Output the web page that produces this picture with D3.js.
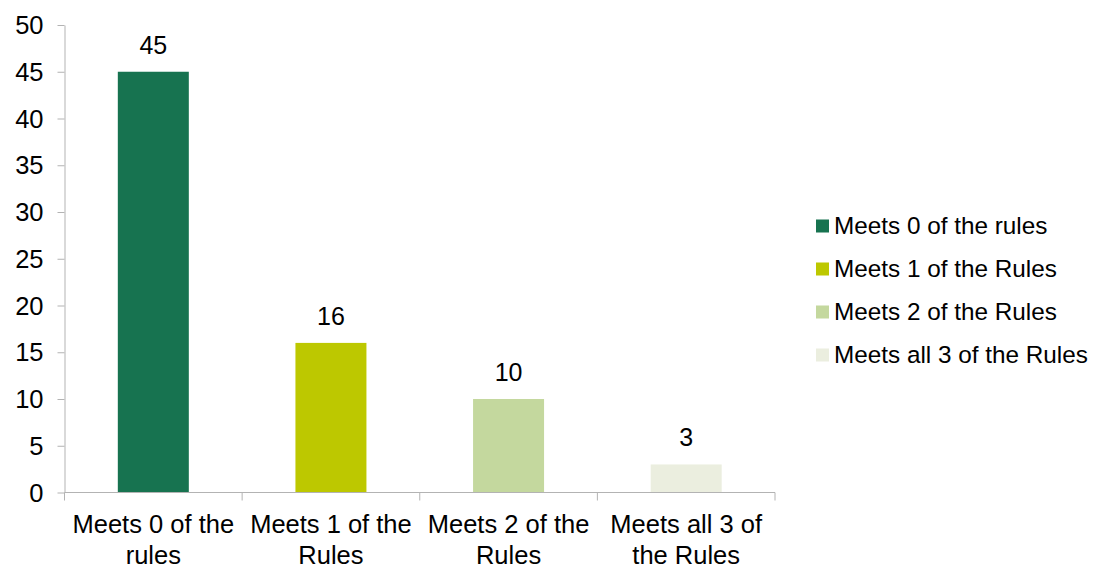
<!DOCTYPE html>
<html><head><meta charset="utf-8">
<script src="https://cdn.jsdelivr.net/npm/d3@7"></script>
<style>body{margin:0;background:#fff}svg{display:block}text{font-family:"Liberation Sans",Arial,sans-serif;fill:#000}</style>
</head><body><svg id="c" width="1093" height="567"></svg>
<script>
const categories = [["Meets 0 of the","rules"],["Meets 1 of the","Rules"],["Meets 2 of the","Rules"],["Meets all 3 of","the Rules"]];
const seriesNames = ["Meets 0 of the rules","Meets 1 of the Rules","Meets 2 of the Rules","Meets all 3 of the Rules"];
const values = [45,16,10,3];
const colors = ["#177350","#bdc800","#c4d89e","#ebeedf"];
const yTicks = [0,5,10,15,20,25,30,35,40,45,50];

const svg = d3.select("#c");
const L=64.5, R=775, T=25, B=492.5;
const x = d3.scaleBand().domain(d3.range(values.length)).range([L,R]).paddingInner(0).paddingOuter(0);
const y = d3.scaleLinear().domain([0,50]).range([B,T]);
const axisColor="#b3b3b3";

// y axis
const yg = svg.append("g").attr("transform",`translate(${L},0)`)
  .call(d3.axisLeft(y).tickValues(yTicks).tickSize(7).tickPadding(8).tickSizeOuter(0));
yg.select(".domain").attr("stroke",axisColor);
yg.selectAll(".tick line").attr("stroke",axisColor);
yg.selectAll(".tick text").attr("font-size",25.5).attr("font-family","Liberation Sans, Arial, sans-serif").attr("fill","#000").attr("x",-21).attr("dy","0.34em");

// bars
const bw = 71;
svg.selectAll("rect.bar").data(values).enter().append("rect")
  .attr("x",(d,i)=>x(i)+x.bandwidth()/2-bw/2).attr("width",bw)
  .attr("y",d=>y(d)).attr("height",d=>B-y(d)).attr("fill",(d,i)=>colors[i]);

// x axis
svg.append("line").attr("x1",L).attr("x2",R).attr("y1",B).attr("y2",B).attr("stroke",axisColor);
const bounds = d3.range(values.length+1).map(i=> i<values.length? x(i): R);
svg.selectAll("line.xt").data(bounds).enter().append("line")
  .attr("x1",d=>d).attr("x2",d=>d).attr("y1",B).attr("y2",B+8).attr("stroke",axisColor);

// category labels
categories.forEach((c,i)=>{
  const t = svg.append("text").attr("text-anchor","middle").attr("font-size",25.5)
    .attr("x",x(i)+x.bandwidth()/2).attr("y",533);
  c.forEach((line,j)=>t.append("tspan").attr("x",x(i)+x.bandwidth()/2).attr("dy",j?30.5:0).text(line));
});

// value labels
svg.selectAll("text.val").data(values).enter().append("text")
  .attr("text-anchor","middle").attr("font-size",25)
  .attr("x",(d,i)=>x(i)+x.bandwidth()/2).attr("y",d=>y(d)-18).text(d=>d);

// legend
const lg = svg.append("g");
seriesNames.forEach((n,i)=>{
  const cy = 226 + i*43;
  lg.append("rect").attr("x",816).attr("y",cy-6.5).attr("width",13).attr("height",13).attr("fill",colors[i]);
  lg.append("text").attr("x",834).attr("y",cy+7.5).attr("font-size",24.3).text(n);
});
</script></body></html>
